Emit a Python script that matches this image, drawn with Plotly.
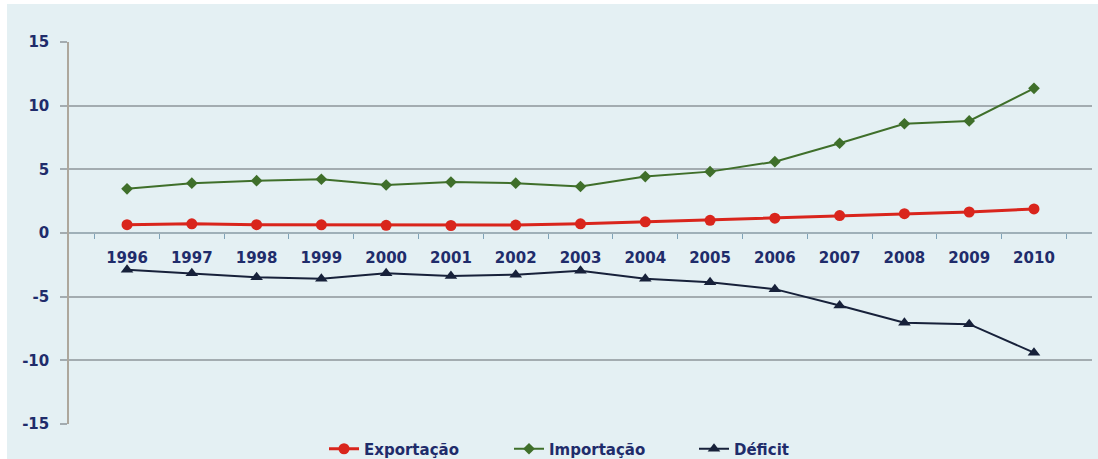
import plotly.graph_objects as go

years = ["1996", "1997", "1998", "1999", "2000", "2001", "2002", "2003",
         "2004", "2005", "2006", "2007", "2008", "2009", "2010"]
exportacao = [0.65, 0.72, 0.65, 0.64, 0.60, 0.59, 0.62, 0.72, 0.88, 1.00, 1.16, 1.37, 1.52, 1.65, 1.89]
importacao = [3.47, 3.91, 4.11, 4.22, 3.77, 4.00, 3.91, 3.65, 4.43, 4.82, 5.60, 7.05, 8.58, 8.80, 11.36]
deficit = [-2.88, -3.17, -3.48, -3.60, -3.17, -3.37, -3.27, -2.96, -3.60, -3.87, -4.41, -5.70, -7.05, -7.16, -9.40]
y_ticks = [-15, -10, -5, 0, 5, 10, 15]

navy = "#1F2C6B"
font_family = "DejaVu Sans"

fig = go.Figure()
fig.add_trace(go.Scatter(
    x=years, y=exportacao, name="Exportação", mode="lines+markers",
    line=dict(color="#D9251C", width=3),
    marker=dict(symbol="circle", size=11, color="#D9251C")))
fig.add_trace(go.Scatter(
    x=years, y=importacao, name="Importação", mode="lines+markers",
    line=dict(color="#3F6F2A", width=2),
    marker=dict(symbol="diamond", size=9, color="#3F6F2A")))
fig.add_trace(go.Scatter(
    x=years, y=deficit, name="Déficit", mode="lines+markers",
    line=dict(color="#17213A", width=2),
    marker=dict(symbol="triangle-up", size=11, color="#17213A")))

fig.update_layout(
    width=1098, height=459,
    margin=dict(l=69, r=6, t=42, b=35, autoexpand=False),
    paper_bgcolor="white",
    plot_bgcolor="rgba(0,0,0,0)",
    font=dict(family=font_family, color=navy, size=15),
    shapes=[dict(type="rect", xref="paper", yref="paper", layer="below",
                 x0=-62 / 1023, x1=1 + 8 / 1023, y0=-36 / 382, y1=1 + 38 / 382,
                 fillcolor="#E4F0F3", line=dict(width=0))],
    xaxis=dict(
        type="category", anchor="free", position=0.5,
        showline=True, linecolor="#9FB0B8", linewidth=1.5,
        ticks="outside", tickson="boundaries", ticklen=5, tickcolor="#7FA3B8",
        showgrid=False, ticklabelstandoff=11,
        tickfont=dict(family=font_family, size=15, color=navy, weight="bold"),
    ),
    yaxis=dict(
        range=[-15, 15], tickvals=y_ticks, ticktext=[str(v) for v in y_ticks],
        showgrid=True, gridcolor="#A3ACB0", gridwidth=1.5,
        zeroline=False,
        showline=True, linecolor="#ADA79C", linewidth=1.5,
        ticks="outside", ticklen=7, tickcolor="#A3ACB0", tickwidth=1.5,
        ticklabelstandoff=8,
        tickfont=dict(family=font_family, size=15, color=navy, weight="bold"),
    ),
    legend=dict(
        orientation="h", x=(324 - 69) / 1023, xanchor="left",
        y=-25 / 382, yanchor="middle",
        entrywidth=140, entrywidthmode="pixels",
        bgcolor="rgba(0,0,0,0)",
        font=dict(family=font_family, size=15, color=navy, weight="bold"),
    ),
)

fig.write_html("out.html")
